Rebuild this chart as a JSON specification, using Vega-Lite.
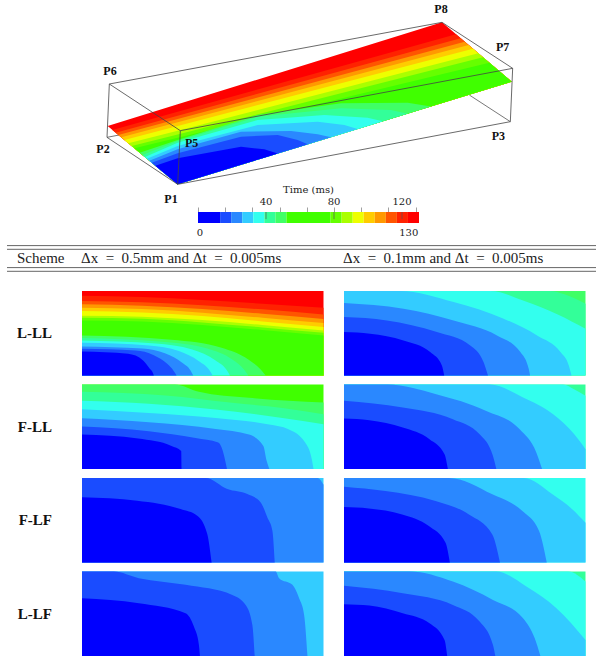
{"$schema":"https://vega.github.io/schema/vega-lite/v6.json","padding":{"left":6,"top":0,"right":0,"bottom":0},"autosize":{"type":"pad"},"background":"white","config":{"view":{"stroke":null}},"bounds":"flush","spacing":0,"vconcat":[
{"width":520,"height":211.7,"layer":[
{"data":{"values":[{"edge":"a","x":48,"y":412},{"edge":"a","x":90,"y":404},{"edge":"b","x":1135,"y":285},{"edge":"b","x":1258,"y":365}]},"mark":{"type":"line","stroke":"#555","strokeWidth":0.8},"encoding":{"x":{"field":"x","type":"quantitative","scale":{"domain":[-27,1533]},"axis":null},"y":{"field":"y","type":"quantitative","scale":{"domain":[635.1,0]},"axis":null},"detail":{"field":"edge"}}},
{"data":{"values":[
{"band":130,"x":50,"y":378,"lower":378},{"band":130,"x":260,"y":312.9,"lower":553},{"band":130,"x":1053,"y":67,"lower":309.2},{"band":130,"x":1262,"y":245,"lower":245},
{"band":123.5,"x":64,"y":390,"lower":390},{"band":123.5,"x":260,"y":335.4,"lower":553},{"band":123.5,"x":1095,"y":103,"lower":296.3},{"band":123.5,"x":1262,"y":245,"lower":245},
{"band":117,"x":74,"y":398,"lower":398},{"band":117,"x":260,"y":347.1,"lower":553},{"band":117,"x":1109,"y":115,"lower":292},{"band":117,"x":1262,"y":245,"lower":245},
{"band":110.5,"x":82,"y":405,"lower":405},{"band":110.5,"x":260,"y":357,"lower":553},{"band":110.5,"x":1121,"y":125,"lower":288.3},{"band":110.5,"x":1262,"y":245,"lower":245},
{"band":104,"x":91,"y":412,"lower":412},{"band":104,"x":260,"y":367.1,"lower":553},{"band":104,"x":1133,"y":135,"lower":284.6},{"band":104,"x":1262,"y":245,"lower":245},
{"band":97.5,"x":100,"y":420,"lower":420},{"band":97.5,"x":260,"y":378.1,"lower":553},{"band":97.5,"x":1146,"y":146,"lower":280.6},{"band":97.5,"x":1262,"y":245,"lower":245},
{"band":91,"x":112,"y":430,"lower":430},{"band":91,"x":260,"y":392,"lower":553},{"band":91,"x":1162,"y":160,"lower":275.7},{"band":91,"x":1262,"y":245,"lower":245},
{"band":84.5,"x":122,"y":438,"lower":438},{"band":84.5,"x":260,"y":403.2,"lower":553},{"band":84.5,"x":1176,"y":172,"lower":271.4},{"band":84.5,"x":1262,"y":245,"lower":245},
{"band":78,"x":130,"y":445,"lower":445},{"band":78,"x":260,"y":413.6,"lower":553},{"band":78,"x":1195,"y":188,"lower":265.6},{"band":78,"x":1262,"y":245,"lower":245},
{"band":52,"x":146,"y":458,"lower":458},{"band":52,"x":260,"y":420,"lower":553},{"band":52,"x":500,"y":345,"lower":479.2},{"band":52,"x":750,"y":310,"lower":402.4},{"band":52,"x":950,"y":308,"lower":340.9},{"band":52,"x":1020,"y":319.4,"lower":319.4},
{"band":45.5,"x":154,"y":465,"lower":465},{"band":45.5,"x":260,"y":423,"lower":553},{"band":45.5,"x":500,"y":350,"lower":479.2},{"band":45.5,"x":750,"y":325,"lower":402.4},{"band":45.5,"x":900,"y":330,"lower":356.3},{"band":45.5,"x":950,"y":340.9,"lower":340.9},
{"band":39,"x":162,"y":471,"lower":471},{"band":39,"x":260,"y":428,"lower":553},{"band":39,"x":500,"y":360,"lower":479.2},{"band":39,"x":700,"y":345,"lower":417.7},{"band":39,"x":830,"y":353,"lower":377.8},{"band":39,"x":875,"y":364,"lower":364},
{"band":32.5,"x":168,"y":476,"lower":476},{"band":32.5,"x":260,"y":438,"lower":553},{"band":32.5,"x":500,"y":375,"lower":479.2},{"band":32.5,"x":680,"y":365,"lower":423.9},{"band":32.5,"x":760,"y":375,"lower":399.3},{"band":32.5,"x":800,"y":387,"lower":387},
{"band":26,"x":175,"y":482,"lower":482},{"band":26,"x":260,"y":448,"lower":553},{"band":26,"x":450,"y":395,"lower":494.6},{"band":26,"x":600,"y":393,"lower":448.5},{"band":26,"x":680,"y":403,"lower":423.9},{"band":26,"x":720,"y":411.6,"lower":411.6},
{"band":19.5,"x":182,"y":488,"lower":488},{"band":19.5,"x":260,"y":460,"lower":553},{"band":19.5,"x":450,"y":410,"lower":494.6},{"band":19.5,"x":560,"y":405,"lower":460.8},{"band":19.5,"x":620,"y":420,"lower":442.3},{"band":19.5,"x":650,"y":433,"lower":433},
{"band":13,"x":193,"y":497,"lower":497},{"band":13,"x":260,"y":475,"lower":553},{"band":13,"x":450,"y":440,"lower":494.6},{"band":13,"x":520,"y":448,"lower":473},{"band":13,"x":560,"y":460.8,"lower":460.8}
]},"mark":{"type":"area","interpolate":"linear"},"encoding":{"x":{"field":"x","type":"quantitative","scale":{"domain":[-27,1533]},"axis":null},"y":{"field":"y","type":"quantitative","stack":null,"scale":{"domain":[635.1,0]},"axis":null},"y2":{"field":"lower"},"color":{"field":"band","type":"ordinal","legend":null,"scale":{"domain":[13,19.5,26,32.5,39,45.5,52,78,84.5,91,97.5,104,110.5,117,123.5,130],"range":["#0000ff","#1a4cff","#2a88ff","#33ccff","#33ffee","#33ff99","#40ff66","#40ff00","#66ff00","#aaff00","#eeff00","#ffcc00","#ff9900","#ff5500","#ff2200","#ff0000"]}}}},
{"data":{"values":[
{"edge":"P6-P8","x":55,"y":252},{"edge":"P6-P8","x":1053,"y":67},
{"edge":"P6-P5","x":55,"y":252},{"edge":"P6-P5","x":268,"y":392},
{"edge":"P5-P7","x":268,"y":392},{"edge":"P5-P7","x":1265,"y":205},
{"edge":"P8-P7","x":1053,"y":67},{"edge":"P8-P7","x":1265,"y":205},
{"edge":"P6-P2","x":55,"y":252},{"edge":"P6-P2","x":48,"y":412},
{"edge":"P2-P1","x":48,"y":412},{"edge":"P2-P1","x":260,"y":553},
{"edge":"P1-P3","x":260,"y":553},{"edge":"P1-P3","x":1258,"y":365},
{"edge":"P3-P7","x":1258,"y":365},{"edge":"P3-P7","x":1265,"y":205},
{"edge":"P1-P5","x":260,"y":553},{"edge":"P1-P5","x":268,"y":392}
]},"mark":{"type":"line","stroke":"#444","strokeWidth":0.8},"encoding":{"x":{"field":"x","type":"quantitative","scale":{"domain":[-27,1533]},"axis":null},"y":{"field":"y","type":"quantitative","scale":{"domain":[635.1,0]},"axis":null},"detail":{"field":"edge"}}},
{"data":{"values":[{"t":"P8","x":1050,"y":28},{"t":"P7","x":1235,"y":140},{"t":"P6","x":57,"y":213},{"t":"P5","x":302,"y":428},{"t":"P2","x":36,"y":448},{"t":"P3","x":1222,"y":408},{"t":"P1","x":240,"y":598}]},"mark":{"type":"text","font":"Liberation Serif","fontWeight":"bold","fontSize":12,"color":"#111"},"encoding":{"x":{"field":"x","type":"quantitative","scale":{"domain":[-27,1533]},"axis":null},"y":{"field":"y","type":"quantitative","scale":{"domain":[635.1,0]},"axis":null},"text":{"field":"t"}}}
]},
{"width":520,"height":11,"layer":[
{"data":{"values":[{"from":0,"to":13,"band":13},{"from":13,"to":19.5,"band":19.5},{"from":19.5,"to":26,"band":26},{"from":26,"to":32.5,"band":32.5},{"from":32.5,"to":39,"band":39},{"from":39,"to":45.5,"band":45.5},{"from":45.5,"to":52,"band":52},{"from":52,"to":78,"band":78},{"from":78,"to":84.5,"band":84.5},{"from":84.5,"to":91,"band":91},{"from":91,"to":97.5,"band":97.5},{"from":97.5,"to":104,"band":104},{"from":104,"to":110.5,"band":110.5},{"from":110.5,"to":117,"band":117},{"from":117,"to":123.5,"band":123.5},{"from":123.5,"to":130,"band":130}]},"mark":{"type":"rect"},"encoding":{"x":{"field":"from","type":"quantitative","scale":{"domain":[-68.24,237.65]},"axis":{"orient":"top","title":"Time (ms)","titleX":226,"titleY":-18,"titleFont":"DejaVu Serif","titleFontSize":10,"titleFontWeight":"normal","titleColor":"#222","values":[0,4,8,12,16,20,24,28,32,36,40,44,48,52,56,60,64,68,72,76,80,84,88,92,96,100,104,108,112,116,120,124,128],"labels":false,"tickSize":5,"tickColor":"#777","tickWidth":0.7,"domain":false,"grid":false}},"x2":{"field":"to"},"color":{"field":"band","type":"ordinal","legend":null,"scale":{"domain":[13,19.5,26,32.5,39,45.5,52,78,84.5,91,97.5,104,110.5,117,123.5,130],"range":["#0000ff","#1a4cff","#2a88ff","#33ccff","#33ffee","#33ff99","#40ff66","#40ff00","#66ff00","#aaff00","#eeff00","#ffcc00","#ff9900","#ff5500","#ff2200","#ff0000"]}}}},
{"data":{"values":[{"ms":40,"top":1,"bottom":0.35},{"ms":80,"top":1,"bottom":0.35},{"ms":120,"top":1,"bottom":0.35}]},"mark":{"type":"rule","stroke":"#555","strokeWidth":0.7},"encoding":{"x":{"field":"ms","type":"quantitative","scale":{"domain":[-68.24,237.65]}},"y":{"field":"top","type":"quantitative","scale":{"domain":[0,1]},"axis":null},"y2":{"field":"bottom"}}},
{"data":{"values":[{"ms":1.2,"t":"0","pos":-0.87},{"ms":124,"t":"130","pos":-0.87},{"ms":40,"t":"40","pos":1.88},{"ms":80,"t":"80","pos":1.88},{"ms":120,"t":"120","pos":1.88}]},"mark":{"type":"text","font":"DejaVu Serif","fontSize":10,"color":"#222"},"encoding":{"x":{"field":"ms","type":"quantitative","scale":{"domain":[-68.24,237.65]}},"y":{"field":"pos","type":"quantitative","scale":{"domain":[0,1]},"axis":null},"text":{"field":"t"}}}
]},
{"width":520,"height":68,"layer":[
{"data":{"values":[{"from":6,"to":595,"y":22.6},{"from":6,"to":595,"y":26.3},{"from":6,"to":595,"y":44.6},{"from":6,"to":595,"y":48.3}]},"mark":{"type":"rule","stroke":"#666","strokeWidth":1},"encoding":{"x":{"field":"from","type":"quantitative","scale":{"domain":[81,601]},"axis":null},"x2":{"field":"to"},"y":{"field":"y","type":"quantitative","scale":{"domain":[68,0]},"axis":null}}},
{"data":{"values":[{"t":"Scheme","x":16,"y":34.6},{"t":"Δx \u2005= \u20050.5mm and Δt \u2005= \u20050.005ms","x":80,"y":34.6},{"t":"Δx \u2005= \u20050.1mm and Δt \u2005= \u20050.005ms","x":342,"y":34.6}]},"mark":{"type":"text","align":"left","font":"Liberation Serif","fontSize":15,"color":"#222"},"encoding":{"x":{"field":"x","type":"quantitative","scale":{"domain":[81,601]},"axis":null},"y":{"field":"y","type":"quantitative","scale":{"domain":[68,0]},"axis":null},"text":{"field":"t"}}}
]},
{"data":{"name":"contours","values":[
{"scheme":"L-LL","dx":"0.5","band":130,"x":0,"y":0},{"scheme":"L-LL","dx":"0.5","band":130,"x":723,"y":0},
{"scheme":"L-LL","dx":"0.5","band":123.5,"x":0,"y":14},{"scheme":"L-LL","dx":"0.5","band":123.5,"x":180,"y":18},{"scheme":"L-LL","dx":"0.5","band":123.5,"x":360,"y":27},{"scheme":"L-LL","dx":"0.5","band":123.5,"x":540,"y":38},{"scheme":"L-LL","dx":"0.5","band":123.5,"x":723,"y":50},
{"scheme":"L-LL","dx":"0.5","band":117,"x":0,"y":30},{"scheme":"L-LL","dx":"0.5","band":117,"x":180,"y":34},{"scheme":"L-LL","dx":"0.5","band":117,"x":360,"y":43},{"scheme":"L-LL","dx":"0.5","band":117,"x":540,"y":55},{"scheme":"L-LL","dx":"0.5","band":117,"x":723,"y":70},
{"scheme":"L-LL","dx":"0.5","band":110.5,"x":0,"y":40},{"scheme":"L-LL","dx":"0.5","band":110.5,"x":180,"y":44},{"scheme":"L-LL","dx":"0.5","band":110.5,"x":360,"y":54},{"scheme":"L-LL","dx":"0.5","band":110.5,"x":540,"y":68},{"scheme":"L-LL","dx":"0.5","band":110.5,"x":723,"y":84},
{"scheme":"L-LL","dx":"0.5","band":104,"x":0,"y":50},{"scheme":"L-LL","dx":"0.5","band":104,"x":180,"y":54},{"scheme":"L-LL","dx":"0.5","band":104,"x":360,"y":65},{"scheme":"L-LL","dx":"0.5","band":104,"x":540,"y":80},{"scheme":"L-LL","dx":"0.5","band":104,"x":723,"y":96},
{"scheme":"L-LL","dx":"0.5","band":97.5,"x":0,"y":60},{"scheme":"L-LL","dx":"0.5","band":97.5,"x":180,"y":64},{"scheme":"L-LL","dx":"0.5","band":97.5,"x":360,"y":75},{"scheme":"L-LL","dx":"0.5","band":97.5,"x":540,"y":91},{"scheme":"L-LL","dx":"0.5","band":97.5,"x":723,"y":108},
{"scheme":"L-LL","dx":"0.5","band":91,"x":0,"y":74},{"scheme":"L-LL","dx":"0.5","band":91,"x":180,"y":77},{"scheme":"L-LL","dx":"0.5","band":91,"x":360,"y":87},{"scheme":"L-LL","dx":"0.5","band":91,"x":540,"y":102},{"scheme":"L-LL","dx":"0.5","band":91,"x":723,"y":118},
{"scheme":"L-LL","dx":"0.5","band":84.5,"x":0,"y":80},{"scheme":"L-LL","dx":"0.5","band":84.5,"x":180,"y":83},{"scheme":"L-LL","dx":"0.5","band":84.5,"x":360,"y":94},{"scheme":"L-LL","dx":"0.5","band":84.5,"x":540,"y":109},{"scheme":"L-LL","dx":"0.5","band":84.5,"x":723,"y":125},
{"scheme":"L-LL","dx":"0.5","band":78,"x":0,"y":88},{"scheme":"L-LL","dx":"0.5","band":78,"x":180,"y":91},{"scheme":"L-LL","dx":"0.5","band":78,"x":360,"y":102},{"scheme":"L-LL","dx":"0.5","band":78,"x":540,"y":117},{"scheme":"L-LL","dx":"0.5","band":78,"x":723,"y":133},
{"scheme":"L-LL","dx":"0.5","band":52,"x":0,"y":133},{"scheme":"L-LL","dx":"0.5","band":52,"x":268,"y":146},{"scheme":"L-LL","dx":"0.5","band":52,"x":418,"y":170},{"scheme":"L-LL","dx":"0.5","band":52,"x":498,"y":205},{"scheme":"L-LL","dx":"0.5","band":52,"x":535,"y":235},{"scheme":"L-LL","dx":"0.5","band":52,"x":550,"y":253},
{"scheme":"L-LL","dx":"0.5","band":45.5,"x":0,"y":141},{"scheme":"L-LL","dx":"0.5","band":45.5,"x":240,"y":152},{"scheme":"L-LL","dx":"0.5","band":45.5,"x":375,"y":172},{"scheme":"L-LL","dx":"0.5","band":45.5,"x":450,"y":205},{"scheme":"L-LL","dx":"0.5","band":45.5,"x":485,"y":235},{"scheme":"L-LL","dx":"0.5","band":45.5,"x":498,"y":253},
{"scheme":"L-LL","dx":"0.5","band":39,"x":0,"y":148},{"scheme":"L-LL","dx":"0.5","band":39,"x":220,"y":157},{"scheme":"L-LL","dx":"0.5","band":39,"x":330,"y":175},{"scheme":"L-LL","dx":"0.5","band":39,"x":400,"y":208},{"scheme":"L-LL","dx":"0.5","band":39,"x":432,"y":235},{"scheme":"L-LL","dx":"0.5","band":39,"x":443,"y":253},
{"scheme":"L-LL","dx":"0.5","band":32.5,"x":0,"y":155},{"scheme":"L-LL","dx":"0.5","band":32.5,"x":200,"y":163},{"scheme":"L-LL","dx":"0.5","band":32.5,"x":290,"y":180},{"scheme":"L-LL","dx":"0.5","band":32.5,"x":350,"y":210},{"scheme":"L-LL","dx":"0.5","band":32.5,"x":380,"y":235},{"scheme":"L-LL","dx":"0.5","band":32.5,"x":391,"y":253},
{"scheme":"L-LL","dx":"0.5","band":26,"x":0,"y":166},{"scheme":"L-LL","dx":"0.5","band":26,"x":180,"y":172},{"scheme":"L-LL","dx":"0.5","band":26,"x":250,"y":187},{"scheme":"L-LL","dx":"0.5","band":26,"x":300,"y":215},{"scheme":"L-LL","dx":"0.5","band":26,"x":325,"y":238},{"scheme":"L-LL","dx":"0.5","band":26,"x":333,"y":253},
{"scheme":"L-LL","dx":"0.5","band":19.5,"x":0,"y":173},{"scheme":"L-LL","dx":"0.5","band":19.5,"x":160,"y":178},{"scheme":"L-LL","dx":"0.5","band":19.5,"x":215,"y":192},{"scheme":"L-LL","dx":"0.5","band":19.5,"x":255,"y":218},{"scheme":"L-LL","dx":"0.5","band":19.5,"x":275,"y":240},{"scheme":"L-LL","dx":"0.5","band":19.5,"x":283,"y":253},
{"scheme":"L-LL","dx":"0.5","band":13,"x":0,"y":181},{"scheme":"L-LL","dx":"0.5","band":13,"x":138,"y":188},{"scheme":"L-LL","dx":"0.5","band":13,"x":183,"y":208},{"scheme":"L-LL","dx":"0.5","band":13,"x":203,"y":233},{"scheme":"L-LL","dx":"0.5","band":13,"x":212,"y":245},{"scheme":"L-LL","dx":"0.5","band":13,"x":215,"y":253},

{"scheme":"F-LL","dx":"0.5","band":78,"x":0,"y":0},{"scheme":"F-LL","dx":"0.5","band":78,"x":723,"y":0},
{"scheme":"F-LL","dx":"0.5","band":52,"x":0,"y":0},{"scheme":"F-LL","dx":"0.5","band":52,"x":278,"y":0},{"scheme":"F-LL","dx":"0.5","band":52,"x":350,"y":22},{"scheme":"F-LL","dx":"0.5","band":52,"x":500,"y":40},{"scheme":"F-LL","dx":"0.5","band":52,"x":723,"y":54},
{"scheme":"F-LL","dx":"0.5","band":45.5,"x":0,"y":22},{"scheme":"F-LL","dx":"0.5","band":45.5,"x":250,"y":33},{"scheme":"F-LL","dx":"0.5","band":45.5,"x":450,"y":55},{"scheme":"F-LL","dx":"0.5","band":45.5,"x":600,"y":70},{"scheme":"F-LL","dx":"0.5","band":45.5,"x":723,"y":89},
{"scheme":"F-LL","dx":"0.5","band":39,"x":0,"y":49},{"scheme":"F-LL","dx":"0.5","band":39,"x":200,"y":58},{"scheme":"F-LL","dx":"0.5","band":39,"x":400,"y":75},{"scheme":"F-LL","dx":"0.5","band":39,"x":600,"y":100},{"scheme":"F-LL","dx":"0.5","band":39,"x":723,"y":119},
{"scheme":"F-LL","dx":"0.5","band":32.5,"x":0,"y":74},{"scheme":"F-LL","dx":"0.5","band":32.5,"x":200,"y":85},{"scheme":"F-LL","dx":"0.5","band":32.5,"x":400,"y":100},{"scheme":"F-LL","dx":"0.5","band":32.5,"x":560,"y":120},{"scheme":"F-LL","dx":"0.5","band":32.5,"x":618,"y":134},{"scheme":"F-LL","dx":"0.5","band":32.5,"x":668,"y":174},{"scheme":"F-LL","dx":"0.5","band":32.5,"x":688,"y":224},{"scheme":"F-LL","dx":"0.5","band":32.5,"x":693,"y":253},
{"scheme":"F-LL","dx":"0.5","band":26,"x":0,"y":101},{"scheme":"F-LL","dx":"0.5","band":26,"x":200,"y":113},{"scheme":"F-LL","dx":"0.5","band":26,"x":400,"y":133},{"scheme":"F-LL","dx":"0.5","band":26,"x":500,"y":150},{"scheme":"F-LL","dx":"0.5","band":26,"x":543,"y":184},{"scheme":"F-LL","dx":"0.5","band":26,"x":553,"y":229},{"scheme":"F-LL","dx":"0.5","band":26,"x":561,"y":253},
{"scheme":"F-LL","dx":"0.5","band":19.5,"x":0,"y":126},{"scheme":"F-LL","dx":"0.5","band":19.5,"x":200,"y":140},{"scheme":"F-LL","dx":"0.5","band":19.5,"x":340,"y":160},{"scheme":"F-LL","dx":"0.5","band":19.5,"x":408,"y":174},{"scheme":"F-LL","dx":"0.5","band":19.5,"x":423,"y":204},{"scheme":"F-LL","dx":"0.5","band":19.5,"x":434,"y":253},
{"scheme":"F-LL","dx":"0.5","band":13,"x":0,"y":150},{"scheme":"F-LL","dx":"0.5","band":13,"x":168,"y":162},{"scheme":"F-LL","dx":"0.5","band":13,"x":268,"y":184},{"scheme":"F-LL","dx":"0.5","band":13,"x":297,"y":199},{"scheme":"F-LL","dx":"0.5","band":13,"x":298,"y":253},

{"scheme":"F-LF","dx":"0.5","band":32.5,"x":0,"y":0},{"scheme":"F-LF","dx":"0.5","band":32.5,"x":723,"y":0},
{"scheme":"F-LF","dx":"0.5","band":26,"x":0,"y":0},{"scheme":"F-LF","dx":"0.5","band":26,"x":705,"y":0},{"scheme":"F-LF","dx":"0.5","band":26,"x":723,"y":20},
{"scheme":"F-LF","dx":"0.5","band":19.5,"x":0,"y":0},{"scheme":"F-LF","dx":"0.5","band":19.5,"x":370,"y":0},{"scheme":"F-LF","dx":"0.5","band":19.5,"x":435,"y":33},{"scheme":"F-LF","dx":"0.5","band":19.5,"x":495,"y":48},{"scheme":"F-LF","dx":"0.5","band":19.5,"x":535,"y":73},{"scheme":"F-LF","dx":"0.5","band":19.5,"x":555,"y":118},{"scheme":"F-LF","dx":"0.5","band":19.5,"x":570,"y":158},{"scheme":"F-LF","dx":"0.5","band":19.5,"x":577,"y":253},
{"scheme":"F-LF","dx":"0.5","band":13,"x":0,"y":58},{"scheme":"F-LF","dx":"0.5","band":13,"x":165,"y":68},{"scheme":"F-LF","dx":"0.5","band":13,"x":295,"y":93},{"scheme":"F-LF","dx":"0.5","band":13,"x":345,"y":113},{"scheme":"F-LF","dx":"0.5","band":13,"x":375,"y":168},{"scheme":"F-LF","dx":"0.5","band":13,"x":388,"y":253},

{"scheme":"L-LF","dx":"0.5","band":32.5,"x":0,"y":0},{"scheme":"L-LF","dx":"0.5","band":32.5,"x":723,"y":0},
{"scheme":"L-LF","dx":"0.5","band":26,"x":0,"y":0},{"scheme":"L-LF","dx":"0.5","band":26,"x":580,"y":0},{"scheme":"L-LF","dx":"0.5","band":26,"x":590,"y":20},{"scheme":"L-LF","dx":"0.5","band":26,"x":630,"y":40},{"scheme":"L-LF","dx":"0.5","band":26,"x":650,"y":80},{"scheme":"L-LF","dx":"0.5","band":26,"x":665,"y":130},{"scheme":"L-LF","dx":"0.5","band":26,"x":675,"y":253},
{"scheme":"L-LF","dx":"0.5","band":19.5,"x":0,"y":0},{"scheme":"L-LF","dx":"0.5","band":19.5,"x":95,"y":0},{"scheme":"L-LF","dx":"0.5","band":19.5,"x":170,"y":20},{"scheme":"L-LF","dx":"0.5","band":19.5,"x":310,"y":40},{"scheme":"L-LF","dx":"0.5","band":19.5,"x":450,"y":70},{"scheme":"L-LF","dx":"0.5","band":19.5,"x":490,"y":100},{"scheme":"L-LF","dx":"0.5","band":19.5,"x":510,"y":160},{"scheme":"L-LF","dx":"0.5","band":19.5,"x":517,"y":253},
{"scheme":"L-LF","dx":"0.5","band":13,"x":0,"y":80},{"scheme":"L-LF","dx":"0.5","band":13,"x":170,"y":95},{"scheme":"L-LF","dx":"0.5","band":13,"x":310,"y":125},{"scheme":"L-LF","dx":"0.5","band":13,"x":335,"y":165},{"scheme":"L-LF","dx":"0.5","band":13,"x":350,"y":220},{"scheme":"L-LF","dx":"0.5","band":13,"x":353,"y":253},

{"scheme":"L-LL","dx":"0.1","band":52,"x":0,"y":0},{"scheme":"L-LL","dx":"0.1","band":52,"x":723,"y":0},
{"scheme":"L-LL","dx":"0.1","band":45.5,"x":0,"y":0},{"scheme":"L-LL","dx":"0.1","band":45.5,"x":618,"y":0},{"scheme":"L-LL","dx":"0.1","band":45.5,"x":660,"y":10},{"scheme":"L-LL","dx":"0.1","band":45.5,"x":723,"y":38},
{"scheme":"L-LL","dx":"0.1","band":39,"x":0,"y":0},{"scheme":"L-LL","dx":"0.1","band":39,"x":438,"y":0},{"scheme":"L-LL","dx":"0.1","band":39,"x":540,"y":30},{"scheme":"L-LL","dx":"0.1","band":39,"x":640,"y":70},{"scheme":"L-LL","dx":"0.1","band":39,"x":723,"y":113},
{"scheme":"L-LL","dx":"0.1","band":32.5,"x":0,"y":0},{"scheme":"L-LL","dx":"0.1","band":32.5,"x":168,"y":0},{"scheme":"L-LL","dx":"0.1","band":32.5,"x":328,"y":33},{"scheme":"L-LL","dx":"0.1","band":32.5,"x":478,"y":83},{"scheme":"L-LL","dx":"0.1","band":32.5,"x":578,"y":133},{"scheme":"L-LL","dx":"0.1","band":32.5,"x":648,"y":183},{"scheme":"L-LL","dx":"0.1","band":32.5,"x":673,"y":223},{"scheme":"L-LL","dx":"0.1","band":32.5,"x":681,"y":253},
{"scheme":"L-LL","dx":"0.1","band":26,"x":0,"y":36},{"scheme":"L-LL","dx":"0.1","band":26,"x":178,"y":53},{"scheme":"L-LL","dx":"0.1","band":26,"x":328,"y":88},{"scheme":"L-LL","dx":"0.1","band":26,"x":458,"y":133},{"scheme":"L-LL","dx":"0.1","band":26,"x":528,"y":183},{"scheme":"L-LL","dx":"0.1","band":26,"x":553,"y":233},{"scheme":"L-LL","dx":"0.1","band":26,"x":557,"y":253},
{"scheme":"L-LL","dx":"0.1","band":19.5,"x":0,"y":78},{"scheme":"L-LL","dx":"0.1","band":19.5,"x":128,"y":88},{"scheme":"L-LL","dx":"0.1","band":19.5,"x":278,"y":123},{"scheme":"L-LL","dx":"0.1","band":19.5,"x":378,"y":163},{"scheme":"L-LL","dx":"0.1","band":19.5,"x":418,"y":213},{"scheme":"L-LL","dx":"0.1","band":19.5,"x":431,"y":253},
{"scheme":"L-LL","dx":"0.1","band":13,"x":0,"y":123},{"scheme":"L-LL","dx":"0.1","band":13,"x":78,"y":128},{"scheme":"L-LL","dx":"0.1","band":13,"x":178,"y":148},{"scheme":"L-LL","dx":"0.1","band":13,"x":258,"y":183},{"scheme":"L-LL","dx":"0.1","band":13,"x":293,"y":223},{"scheme":"L-LL","dx":"0.1","band":13,"x":300,"y":253},

{"scheme":"F-LL","dx":"0.1","band":45.5,"x":0,"y":0},{"scheme":"F-LL","dx":"0.1","band":45.5,"x":723,"y":0},
{"scheme":"F-LL","dx":"0.1","band":39,"x":0,"y":0},{"scheme":"F-LL","dx":"0.1","band":39,"x":656,"y":0},{"scheme":"F-LL","dx":"0.1","band":39,"x":690,"y":15},{"scheme":"F-LL","dx":"0.1","band":39,"x":723,"y":34},
{"scheme":"F-LL","dx":"0.1","band":32.5,"x":0,"y":0},{"scheme":"F-LL","dx":"0.1","band":32.5,"x":436,"y":0},{"scheme":"F-LL","dx":"0.1","band":32.5,"x":536,"y":39},{"scheme":"F-LL","dx":"0.1","band":32.5,"x":626,"y":89},{"scheme":"F-LL","dx":"0.1","band":32.5,"x":690,"y":150},{"scheme":"F-LL","dx":"0.1","band":32.5,"x":723,"y":194},
{"scheme":"F-LL","dx":"0.1","band":26,"x":0,"y":0},{"scheme":"F-LL","dx":"0.1","band":26,"x":131,"y":0},{"scheme":"F-LL","dx":"0.1","band":26,"x":276,"y":29},{"scheme":"F-LL","dx":"0.1","band":26,"x":426,"y":79},{"scheme":"F-LL","dx":"0.1","band":26,"x":526,"y":134},{"scheme":"F-LL","dx":"0.1","band":26,"x":576,"y":204},{"scheme":"F-LL","dx":"0.1","band":26,"x":593,"y":253},
{"scheme":"F-LL","dx":"0.1","band":19.5,"x":0,"y":49},{"scheme":"F-LL","dx":"0.1","band":19.5,"x":176,"y":69},{"scheme":"F-LL","dx":"0.1","band":19.5,"x":326,"y":104},{"scheme":"F-LL","dx":"0.1","band":19.5,"x":406,"y":149},{"scheme":"F-LL","dx":"0.1","band":19.5,"x":446,"y":214},{"scheme":"F-LL","dx":"0.1","band":19.5,"x":456,"y":253},
{"scheme":"F-LL","dx":"0.1","band":13,"x":0,"y":102},{"scheme":"F-LL","dx":"0.1","band":13,"x":76,"y":107},{"scheme":"F-LL","dx":"0.1","band":13,"x":176,"y":129},{"scheme":"F-LL","dx":"0.1","band":13,"x":256,"y":164},{"scheme":"F-LL","dx":"0.1","band":13,"x":301,"y":209},{"scheme":"F-LL","dx":"0.1","band":13,"x":311,"y":253},

{"scheme":"F-LF","dx":"0.1","band":39,"x":0,"y":0},{"scheme":"F-LF","dx":"0.1","band":39,"x":723,"y":0},
{"scheme":"F-LF","dx":"0.1","band":32.5,"x":0,"y":0},{"scheme":"F-LF","dx":"0.1","band":32.5,"x":539,"y":0},{"scheme":"F-LF","dx":"0.1","band":32.5,"x":624,"y":49},{"scheme":"F-LF","dx":"0.1","band":32.5,"x":684,"y":94},{"scheme":"F-LF","dx":"0.1","band":32.5,"x":723,"y":134},
{"scheme":"F-LF","dx":"0.1","band":26,"x":0,"y":0},{"scheme":"F-LF","dx":"0.1","band":26,"x":314,"y":0},{"scheme":"F-LF","dx":"0.1","band":26,"x":444,"y":49},{"scheme":"F-LF","dx":"0.1","band":26,"x":534,"y":99},{"scheme":"F-LF","dx":"0.1","band":26,"x":584,"y":159},{"scheme":"F-LF","dx":"0.1","band":26,"x":607,"y":253},
{"scheme":"F-LF","dx":"0.1","band":19.5,"x":0,"y":26},{"scheme":"F-LF","dx":"0.1","band":19.5,"x":124,"y":39},{"scheme":"F-LF","dx":"0.1","band":19.5,"x":274,"y":69},{"scheme":"F-LF","dx":"0.1","band":19.5,"x":374,"y":109},{"scheme":"F-LF","dx":"0.1","band":19.5,"x":444,"y":169},{"scheme":"F-LF","dx":"0.1","band":19.5,"x":467,"y":253},
{"scheme":"F-LF","dx":"0.1","band":13,"x":0,"y":87},{"scheme":"F-LF","dx":"0.1","band":13,"x":74,"y":91},{"scheme":"F-LF","dx":"0.1","band":13,"x":174,"y":109},{"scheme":"F-LF","dx":"0.1","band":13,"x":254,"y":144},{"scheme":"F-LF","dx":"0.1","band":13,"x":304,"y":194},{"scheme":"F-LF","dx":"0.1","band":13,"x":317,"y":253},

{"scheme":"L-LF","dx":"0.1","band":45.5,"x":0,"y":0},{"scheme":"L-LF","dx":"0.1","band":45.5,"x":723,"y":0},
{"scheme":"L-LF","dx":"0.1","band":39,"x":0,"y":0},{"scheme":"L-LF","dx":"0.1","band":39,"x":671,"y":0},{"scheme":"L-LF","dx":"0.1","band":39,"x":723,"y":30},
{"scheme":"L-LF","dx":"0.1","band":32.5,"x":0,"y":0},{"scheme":"L-LF","dx":"0.1","band":32.5,"x":456,"y":0},{"scheme":"L-LF","dx":"0.1","band":32.5,"x":546,"y":45},{"scheme":"L-LF","dx":"0.1","band":32.5,"x":636,"y":110},{"scheme":"L-LF","dx":"0.1","band":32.5,"x":723,"y":205},
{"scheme":"L-LF","dx":"0.1","band":26,"x":0,"y":0},{"scheme":"L-LF","dx":"0.1","band":26,"x":196,"y":0},{"scheme":"L-LF","dx":"0.1","band":26,"x":326,"y":30},{"scheme":"L-LF","dx":"0.1","band":26,"x":446,"y":85},{"scheme":"L-LF","dx":"0.1","band":26,"x":536,"y":140},{"scheme":"L-LF","dx":"0.1","band":26,"x":571,"y":200},{"scheme":"L-LF","dx":"0.1","band":26,"x":588,"y":253},
{"scheme":"L-LF","dx":"0.1","band":19.5,"x":0,"y":43},{"scheme":"L-LF","dx":"0.1","band":19.5,"x":176,"y":65},{"scheme":"L-LF","dx":"0.1","band":19.5,"x":326,"y":100},{"scheme":"L-LF","dx":"0.1","band":19.5,"x":406,"y":150},{"scheme":"L-LF","dx":"0.1","band":19.5,"x":446,"y":220},{"scheme":"L-LF","dx":"0.1","band":19.5,"x":453,"y":253},
{"scheme":"L-LF","dx":"0.1","band":13,"x":0,"y":98},{"scheme":"L-LF","dx":"0.1","band":13,"x":76,"y":102},{"scheme":"L-LF","dx":"0.1","band":13,"x":176,"y":125},{"scheme":"L-LF","dx":"0.1","band":13,"x":256,"y":155},{"scheme":"L-LF","dx":"0.1","band":13,"x":301,"y":205},{"scheme":"L-LF","dx":"0.1","band":13,"x":309,"y":253}
]},"spacing":{"row":8.5,"column":20},"bounds":"flush","facet":{"row":{"field":"scheme","sort":["L-LL","F-LL","F-LF","L-LF"],"header":{"title":null,"labelAngle":0,"labelOrient":"left","labelAlign":"left","labelBaseline":"middle","labelFont":"Liberation Serif","labelFontWeight":"bold","labelFontSize":15,"labelColor":"#111","labelPadding":30}},"column":{"field":"dx","sort":["0.5","0.1"],"header":{"title":null,"labels":false}}},"spec":{"width":241.5,"height":84.5,"mark":{"type":"area","interpolate":"monotone"},"encoding":{"x":{"field":"x","type":"quantitative","scale":{"domain":[0,723]},"axis":null},"y":{"field":"y","type":"quantitative","stack":null,"scale":{"domain":[253,0]},"axis":null},"y2":{"datum":253},"color":{"field":"band","type":"ordinal","legend":null,"scale":{"domain":[13,19.5,26,32.5,39,45.5,52,78,84.5,91,97.5,104,110.5,117,123.5,130],"range":["#0000ff","#1a4cff","#2a88ff","#33ccff","#33ffee","#33ff99","#40ff66","#40ff00","#66ff00","#aaff00","#eeff00","#ffcc00","#ff9900","#ff5500","#ff2200","#ff0000"]}}}}}
]}
